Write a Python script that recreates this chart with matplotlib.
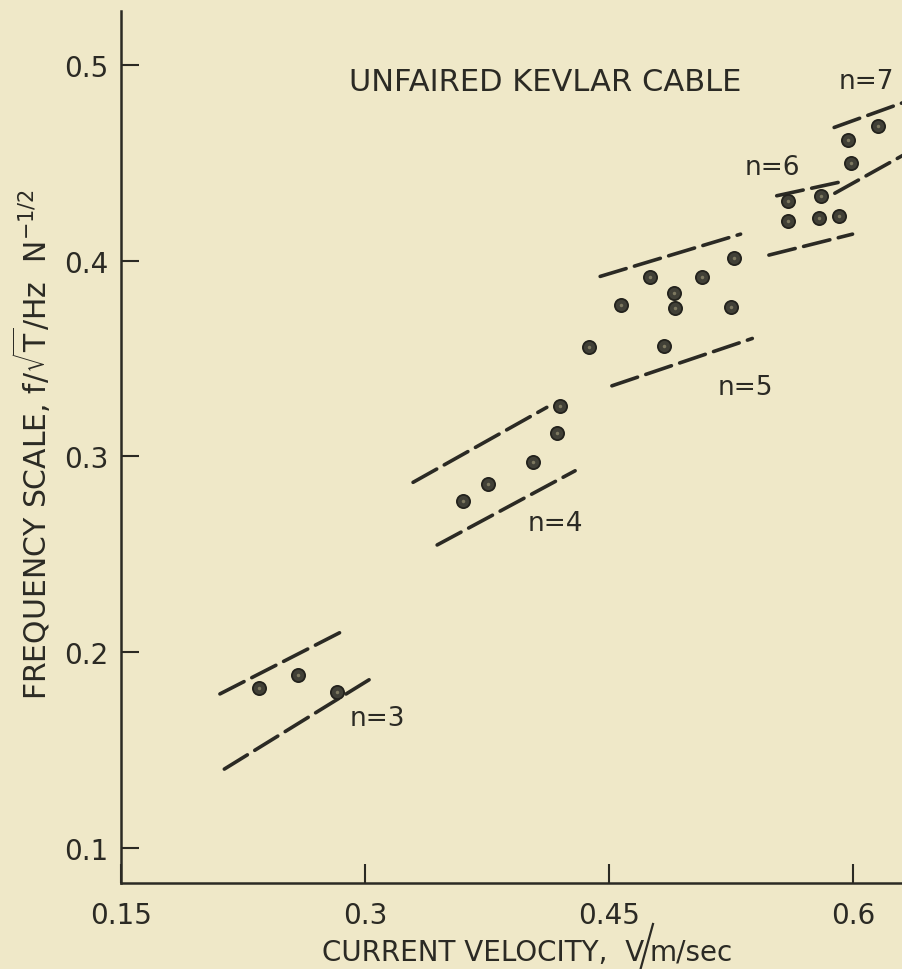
import matplotlib
matplotlib.use("Agg")
import matplotlib.pyplot as plt
from matplotlib.lines import Line2D

plt.rcParams['font.family'] = ['DejaVu Sans']
plt.rcParams['mathtext.fontset'] = 'dejavusans'

BG = '#efe8c8'
INK = '#2b2a24'

# Measured points: current velocity (m/s) vs frequency scale, grouped by mode n
v_n3 = [0.2346, 0.2590, 0.2825]
f_n3 = [0.1819, 0.1884, 0.1795]

v_n4 = [0.3603, 0.3757, 0.4031, 0.4182, 0.4199]
f_n4 = [0.2771, 0.2858, 0.2973, 0.3120, 0.3256]

v_n5 = [0.4379, 0.4574, 0.4753, 0.4901, 0.4907, 0.4835, 0.5072, 0.5267, 0.5250]
f_n5 = [0.3557, 0.3773, 0.3915, 0.3835, 0.3758, 0.3565, 0.3915, 0.4012, 0.3765]

v_n6 = [0.5602, 0.5602, 0.5801, 0.5787, 0.5910]
f_n6 = [0.4306, 0.4204, 0.4332, 0.4216, 0.4229]

v_n7 = [0.5969, 0.5986, 0.6150]
f_n7 = [0.4618, 0.4498, 0.4686]

# Band limits for each mode: (v_start, f_start, v_end, f_end)
band_upper = {
    3: (0.2108, 0.1787, 0.2868, 0.2110),
    4: (0.3295, 0.2868, 0.4117, 0.3251),
    5: (0.4445, 0.3920, 0.5308, 0.4136),
    6: (0.5530, 0.4332, 0.5924, 0.4403),
    7: (0.5883, 0.4681, 0.6330, 0.4815),
}
band_lower = {
    3: (0.2135, 0.1403, 0.3032, 0.1863),
    4: (0.3443, 0.2548, 0.4291, 0.2927),
    5: (0.4517, 0.3361, 0.5380, 0.3603),
    6: (0.5482, 0.4029, 0.5996, 0.4136),
    7: (0.5887, 0.4345, 0.6330, 0.4550),
}

mode_labels = ['n=3', 'n=4', 'n=5', 'n=6', 'n=7']
mode_label_pos = [(0.3077, 0.1664), (0.4171, 0.2660), (0.5339, 0.3354),
                  (0.5505, 0.4478), (0.6084, 0.4917)]

x_ticks = [0.15, 0.3, 0.45, 0.6]
x_tick_labels = ['0.15', '0.3', '0.45', '0.6']
y_ticks = [0.1, 0.2, 0.3, 0.4, 0.5]
y_tick_labels = ['0.1', '0.2', '0.3', '0.4', '0.5']

W, H = 902, 970
fig = plt.figure(figsize=(W / 100, H / 100), dpi=100, facecolor=BG)
ax = fig.add_axes([121 / W, (H - 884) / H, (W - 121) / W, (884 - 12) / H])
ax.set_facecolor(BG)
ax.set_xlim(0.15, 0.63)
ax.set_ylim(0.0821, 0.5276)

for side in ('top', 'right'):
    ax.spines[side].set_visible(False)
for side in ('left', 'bottom'):
    ax.spines[side].set_linewidth(1.8)
    ax.spines[side].set_color(INK)

ax.set_xticks(x_ticks)
ax.set_xticklabels(x_tick_labels)
ax.set_yticks(y_ticks)
ax.set_yticklabels(y_tick_labels)
ax.tick_params(axis='x', direction='in', length=14, width=1.5, color=INK,
               labelsize=20, labelcolor=INK, pad=13)
ax.tick_params(axis='y', direction='in', length=13, width=1.5, color=INK,
               labelsize=20, labelcolor=INK, pad=9)

# dashed band boundaries
for band in (band_upper, band_lower):
    for n, (x0, y0, x1, y1) in band.items():
        ax.plot([x0, x1], [y0, y1], color=INK, lw=2.6, dashes=(7.5, 2.4),
                solid_capstyle='round', dash_capstyle='round', clip_on=True)

# measured points
for vs, fs in ((v_n3, f_n3), (v_n4, f_n4), (v_n5, f_n5), (v_n6, f_n6), (v_n7, f_n7)):
    ax.plot(vs, fs, linestyle='none', marker='o', markersize=9.5,
            markerfacecolor='#414037', markeredgecolor='#23221d',
            markeredgewidth=1.3, clip_on=False)
    ax.plot(vs, fs, linestyle='none', marker='o', markersize=2.5,
            markerfacecolor='#7d7860', markeredgewidth=0, clip_on=False)

for lab, (x, y) in zip(mode_labels, mode_label_pos):
    ax.text(x, y, lab, fontsize=19, color=INK, ha='center', va='center')

ax.text(0.4106, 0.4917, 'UNFAIRED KEVLAR CABLE', fontsize=22, color=INK,
        ha='center', va='center')

# axis titles
fig.text(644 / W, 1 - 953 / H, 'CURRENT VELOCITY,  V', fontsize=20,
         color=INK, ha='right', va='center')
fig.text(650 / W, 1 - 953 / H, 'm/sec', fontsize=20, color=INK,
         ha='left', va='center')
fig.add_artist(Line2D([640 / W, 653 / W], [1 - 972 / H, 1 - 925 / H],
                      transform=fig.transFigure, color=INK, lw=1.6))

fig.text(32 / W, 1 - 445 / H,
         r'FREQUENCY SCALE, f/$\sqrt{\mathrm{T}}$/Hz  N$^{-1/2}$',
         fontsize=21.5, color=INK, rotation=90, ha='center', va='center')

fig.savefig('out.png', dpi=100, facecolor=BG)
